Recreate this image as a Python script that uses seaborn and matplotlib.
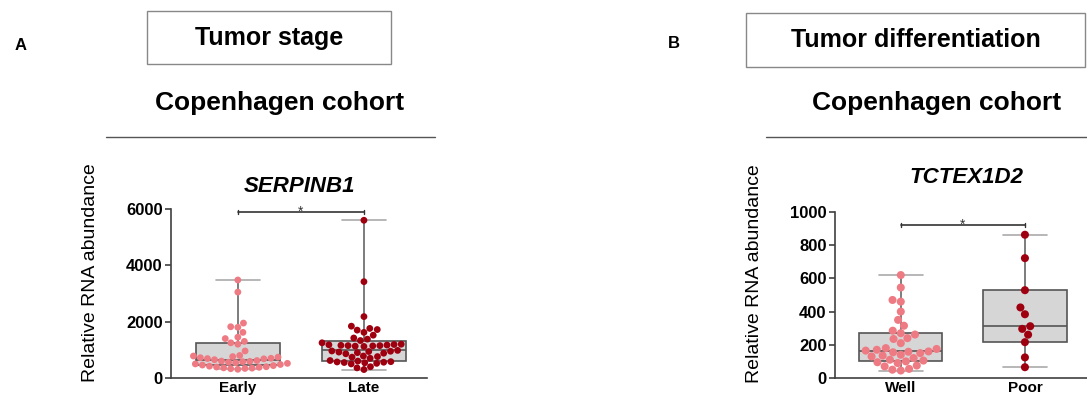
import matplotlib
matplotlib.use("Agg")
import matplotlib.pyplot as plt
import seaborn as sns
import pandas as pd
import numpy as np
from matplotlib.patches import Rectangle
from matplotlib.lines import Line2D

# Panel A - SERPINB1 by tumor stage
stage_labels = ['Early', 'Late']
early = [3480, 3050, 1950, 1820, 1800, 1620, 1450, 1400, 1300, 1250, 1200, 960,
         800, 780, 760, 740, 720, 700, 690, 680, 650,
         620, 600, 590, 580, 560, 540, 520, 500, 480, 460,
         440, 420, 400, 390, 380, 360, 350, 340, 330, 310]
late = [5600, 3420, 2180, 1840, 1760, 1720, 1700, 1620, 1520, 1420, 1380, 1330,
        1250, 1200, 1190, 1180, 1170, 1160, 1150, 1150, 1140, 1130, 1120,
        980, 960, 950, 940, 920, 900, 880, 860,
        780, 760, 740, 700, 620,
        600, 580, 570, 560, 550, 540, 520, 500, 400, 360, 300]

# Panel B - TCTEX1D2 by tumor differentiation
diff_labels = ['Well', 'Poor']
well = [45, 50, 55, 70, 75, 90, 95, 100, 105, 110, 120, 130, 135, 140, 150, 155,
        158, 160, 165, 170, 175, 180, 210, 235, 240, 262, 270, 285, 315, 350,
        400, 460, 470, 545, 620]
poor = [863, 722, 529, 425, 384, 312, 296, 261, 216, 124, 65]

yticks_a = [0, 2000, 4000, 6000]
yticks_b = [0, 200, 400, 600, 800, 1000]

light_red = '#ee7b83'
dark_red = '#9e0010'

sns.set_style('ticks')
plt.rcParams['font.family'] = ['Liberation Sans', 'DejaVu Sans']
plt.rcParams['text.color'] = 'black'
plt.rcParams['axes.labelcolor'] = 'black'
plt.rcParams['xtick.labelcolor'] = 'black'
plt.rcParams['ytick.labelcolor'] = 'black'

fig = plt.figure(figsize=(10.87, 4.0), dpi=100)
W, H = 1087, 400
axA = fig.add_axes([171 / W, 22 / H, 256 / W, 169 / H])
axB = fig.add_axes([835 / W, 22 / H, 252 / W, 166 / H])


def box_stats(vals):
    q1, med, q3 = np.percentile(vals, [25, 50, 75], method='weibull')
    return {'med': med, 'q1': q1, 'q3': q3,
            'whislo': min(vals), 'whishi': max(vals), 'fliers': []}


def panel(ax, labels, groups, ylim, yticks, bracket_y, cap_h, dot_size):
    df = pd.DataFrame({'group': np.repeat(labels, [len(g) for g in groups]),
                       'value': np.concatenate(groups)})
    sns.swarmplot(data=df, x='group', y='value', hue='group',
                  palette=[light_red, dark_red], size=dot_size, ax=ax,
                  legend=False, zorder=3, warn_thresh=1)
    ax.bxp([box_stats(g) for g in groups], positions=[0, 1], widths=0.67,
           patch_artist=True, manage_ticks=False, showfliers=False,
           boxprops=dict(facecolor='#d6d6d6', edgecolor='#555555', linewidth=1.2),
           medianprops=dict(color='#555555', linewidth=1.2),
           whiskerprops=dict(color='#666666', linewidth=1.2),
           capprops=dict(color='#aaaaaa', linewidth=1.2), capwidths=0.35,
           zorder=1)

    ax.set_xlim(-0.53, 1.5)
    ax.set_ylim(*ylim)
    ax.set_yticks(yticks)
    ax.set_xlabel('')
    ax.set_ylabel('')
    sns.despine(ax=ax)
    for s in ['left', 'bottom']:
        ax.spines[s].set_color('#404040')
        ax.spines[s].set_linewidth(1.2)
    ax.tick_params(axis='y', length=4, width=1.2, color='#404040', labelsize=12, pad=2)
    ax.tick_params(axis='x', length=0, labelsize=11, pad=2)
    for lab in ax.get_xticklabels() + ax.get_yticklabels():
        lab.set_fontweight('bold')

    # significance bracket
    ax.plot([0, 1], [bracket_y, bracket_y], color='#333333', lw=1.2, clip_on=False)
    for xx in (0, 1):
        ax.plot([xx, xx], [bracket_y - cap_h, bracket_y + cap_h], color='#333333',
                lw=1.0, clip_on=False)
    ax.text(0.5, bracket_y, '*', ha='center', va='center', fontsize=10,
            color='#333333')
    return ax


panel(axA, stage_labels, [early, late], (0, 6000), yticks_a, 5900, 70, 4.9)
panel(axB, diff_labels, [well, poor], (0, 1000), yticks_b, 920, 12, 5.8)

axA.set_ylabel('Relative RNA abundance', fontsize=14)
axA.yaxis.set_label_coords(-0.28, 0.624)
axB.set_ylabel('Relative RNA abundance', fontsize=14)
axB.yaxis.set_label_coords(-0.286, 0.63)

axA.text(0.5, 1.136, 'SERPINB1', transform=axA.transAxes, ha='center', va='center',
         fontsize=16, fontweight='bold', fontstyle='italic')
axB.text(0.52, 1.21, 'TCTEX1D2', transform=axB.transAxes, ha='center', va='center',
         fontsize=16, fontweight='bold', fontstyle='italic')


def px(x, y):
    return x / W, 1 - y / H


# headers
fig.text(*px(21, 45), 'A', fontsize=12, fontweight='bold', ha='center', va='center')
fig.text(*px(674, 44), 'B', fontsize=12, fontweight='bold', ha='center', va='center')

x0, y0 = px(147, 64)
fig.add_artist(Rectangle((x0, y0), (391 - 147) / W, (64 - 11) / H, transform=fig.transFigure,
                         facecolor='white', edgecolor='#888888', lw=1.0))
fig.text(*px(269, 38), 'Tumor stage', fontsize=18, fontweight='bold', ha='center', va='center')

x0, y0 = px(746, 67)
fig.add_artist(Rectangle((x0, y0), (1085 - 746) / W, (67 - 13) / H, transform=fig.transFigure,
                         facecolor='white', edgecolor='#888888', lw=1.0))
fig.text(*px(916, 40), 'Tumor differentiation', fontsize=18, fontweight='bold',
         ha='center', va='center')

fig.text(*px(280, 103), 'Copenhagen cohort', fontsize=19, fontweight='bold',
         ha='center', va='center')
fig.text(*px(937, 103), 'Copenhagen cohort', fontsize=19, fontweight='bold',
         ha='center', va='center')
fig.add_artist(Line2D([106 / W, 435 / W], [1 - 137 / H] * 2, transform=fig.transFigure,
                      color='#555555', lw=1.0))
fig.add_artist(Line2D([766 / W, 1087 / W], [1 - 137 / H] * 2, transform=fig.transFigure,
                      color='#555555', lw=1.0))

fig.savefig('out.png', dpi=100)
